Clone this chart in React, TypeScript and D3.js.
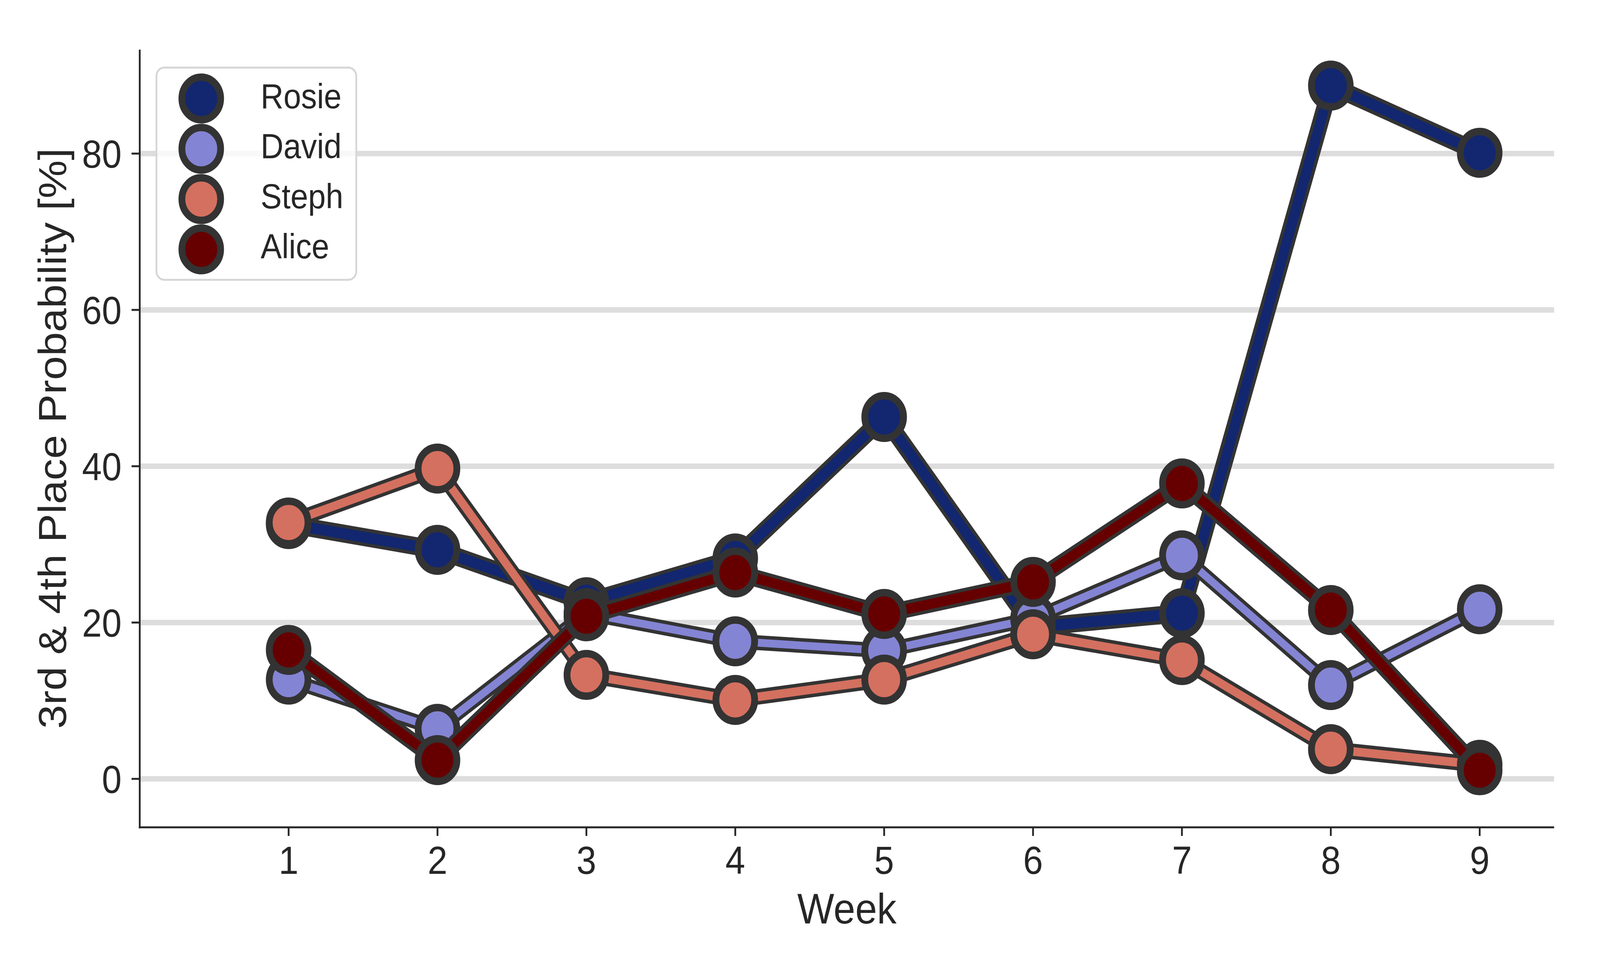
import React, { useEffect } from 'react';
import * as d3 from 'd3';

// weeks on the x axis
const weeks = [1, 2, 3, 4, 5, 6, 7, 8, 9];
const yTicks = [0, 20, 40, 60, 80];

// probability per player
const rosie = [32.6, 29.3, 22.6, 28.2, 46.3, 19.4, 21.2, 88.7, 80.1];
const david = [12.7, 6.4, 21.2, 17.6, 16.4, 20.5, 28.6, 12.0, 21.7];
const steph = [32.8, 39.7, 13.3, 10.1, 12.7, 18.5, 15.2, 3.8, 1.8];
const alice = [16.5, 2.4, 20.8, 26.4, 21.1, 25.2, 37.8, 21.6, 1.1];

const players = ['Rosie', 'David', 'Steph', 'Alice'];
const playerValues = [rosie, david, steph, alice];
const playerColors = ['#12276f', '#8484d4', '#d4705f', '#660000'];
const coreWidths = [28, 20, 22, 26];

const W = 4500;
const H = 2500;
const FONT = '"Liberation Sans", Arial, sans-serif';
const EDGE = '#333333';
const TEXT = '#262626';

const App: React.FC = () => {
  useEffect(() => {
    document.body.style.margin = '0';
    document.body.style.overflow = 'hidden';
  }, []);

  const x = d3.scaleLinear().domain([0, 9.5]).range([393, 4371]);
  const y = d3.scaleLinear().domain([-6.2, 93.3]).range([2117, 127]);

  const line = d3
    .line<number>()
    .x((_, i) => x(weeks[i]))
    .y((d) => y(d));

  const [x0, x1] = x.range();
  const [yBottom, yTop] = y.range();

  // the svg fills the whole window, whatever its css size is
  return (
    <svg
      viewBox={`0 0 ${W} ${H}`}
      preserveAspectRatio="none"
      style={{ display: 'block', width: '100vw', height: '100vh', background: '#fff' }}
      fontFamily={FONT}
    >
      <style>{'html,body{margin:0;overflow:hidden}'}</style>
      {/* grid */}
      {yTicks.map((t) => (
        <line key={'g' + t} x1={x0} x2={x1} y1={y(t)} y2={y(t)} stroke="#dddddd" strokeWidth={14} />
      ))}

      {/* series */}
      {playerValues.map((vals, k) => (
        <g key={players[k]}>
          <path
            d={line(vals) || ''}
            fill="none"
            stroke={EDGE}
            strokeWidth={coreWidths[k] + 18}
            strokeLinejoin="round"
            strokeLinecap="round"
          />
          <path
            d={line(vals) || ''}
            fill="none"
            stroke={playerColors[k]}
            strokeWidth={coreWidths[k]}
            strokeLinejoin="round"
            strokeLinecap="round"
          />
          {vals.map((v, i) => (
            <circle
              key={i}
              cx={x(weeks[i])}
              cy={y(v)}
              r={54.5}
              fill={playerColors[k]}
              stroke={EDGE}
              strokeWidth={19}
            />
          ))}
        </g>
      ))}

      {/* spines */}
      <line x1={x0} x2={x0} y1={yTop} y2={yBottom + 2.5} stroke={TEXT} strokeWidth={5} />
      <line x1={x0 - 2.5} x2={x1} y1={yBottom} y2={yBottom} stroke={TEXT} strokeWidth={5} />

      {/* y ticks */}
      {yTicks.map((t) => (
        <g key={'y' + t}>
          <line x1={x0 - 23} x2={x0} y1={y(t)} y2={y(t)} stroke={TEXT} strokeWidth={5} />
          <text x={342} y={y(t)} dy="0.36em" textAnchor="end" fontSize={100} fill={TEXT}>
            {t}
          </text>
        </g>
      ))}

      {/* x ticks */}
      {weeks.map((w) => (
        <g key={'x' + w}>
          <line x1={x(w)} x2={x(w)} y1={yBottom} y2={yBottom + 22} stroke={TEXT} strokeWidth={5} />
          <text x={x(w)} y={2236} textAnchor="middle" fontSize={100} fill={TEXT}>
            {w}
          </text>
        </g>
      ))}

      {/* axis labels */}
      <text x={(x0 + x1) / 2} y={2363} textAnchor="middle" fontSize={110} fill={TEXT}>
        Week
      </text>
      <text
        transform={`translate(186, ${(yTop + yBottom) / 2}) rotate(-90)`}
        textAnchor="middle"
        fontSize={110}
        fill={TEXT}
      >
        3rd &amp; 4th Place Probability [%]
      </text>

      {/* legend */}
      <rect x={440} y={173} width={562} height={543} rx={22} ry={22} fill="#ffffff" fillOpacity={0.8} stroke="#d6d6d6" strokeWidth={5} />
      {players.map((p, k) => (
        <g key={'l' + p}>
          <circle cx={566} cy={252 + k * 128.7} r={54.5} fill={playerColors[k]} stroke={EDGE} strokeWidth={19} />
          <text x={733} y={277 + k * 128} fontSize={89} fill={TEXT}>
            {p}
          </text>
        </g>
      ))}
    </svg>
  );
};

export default App;
